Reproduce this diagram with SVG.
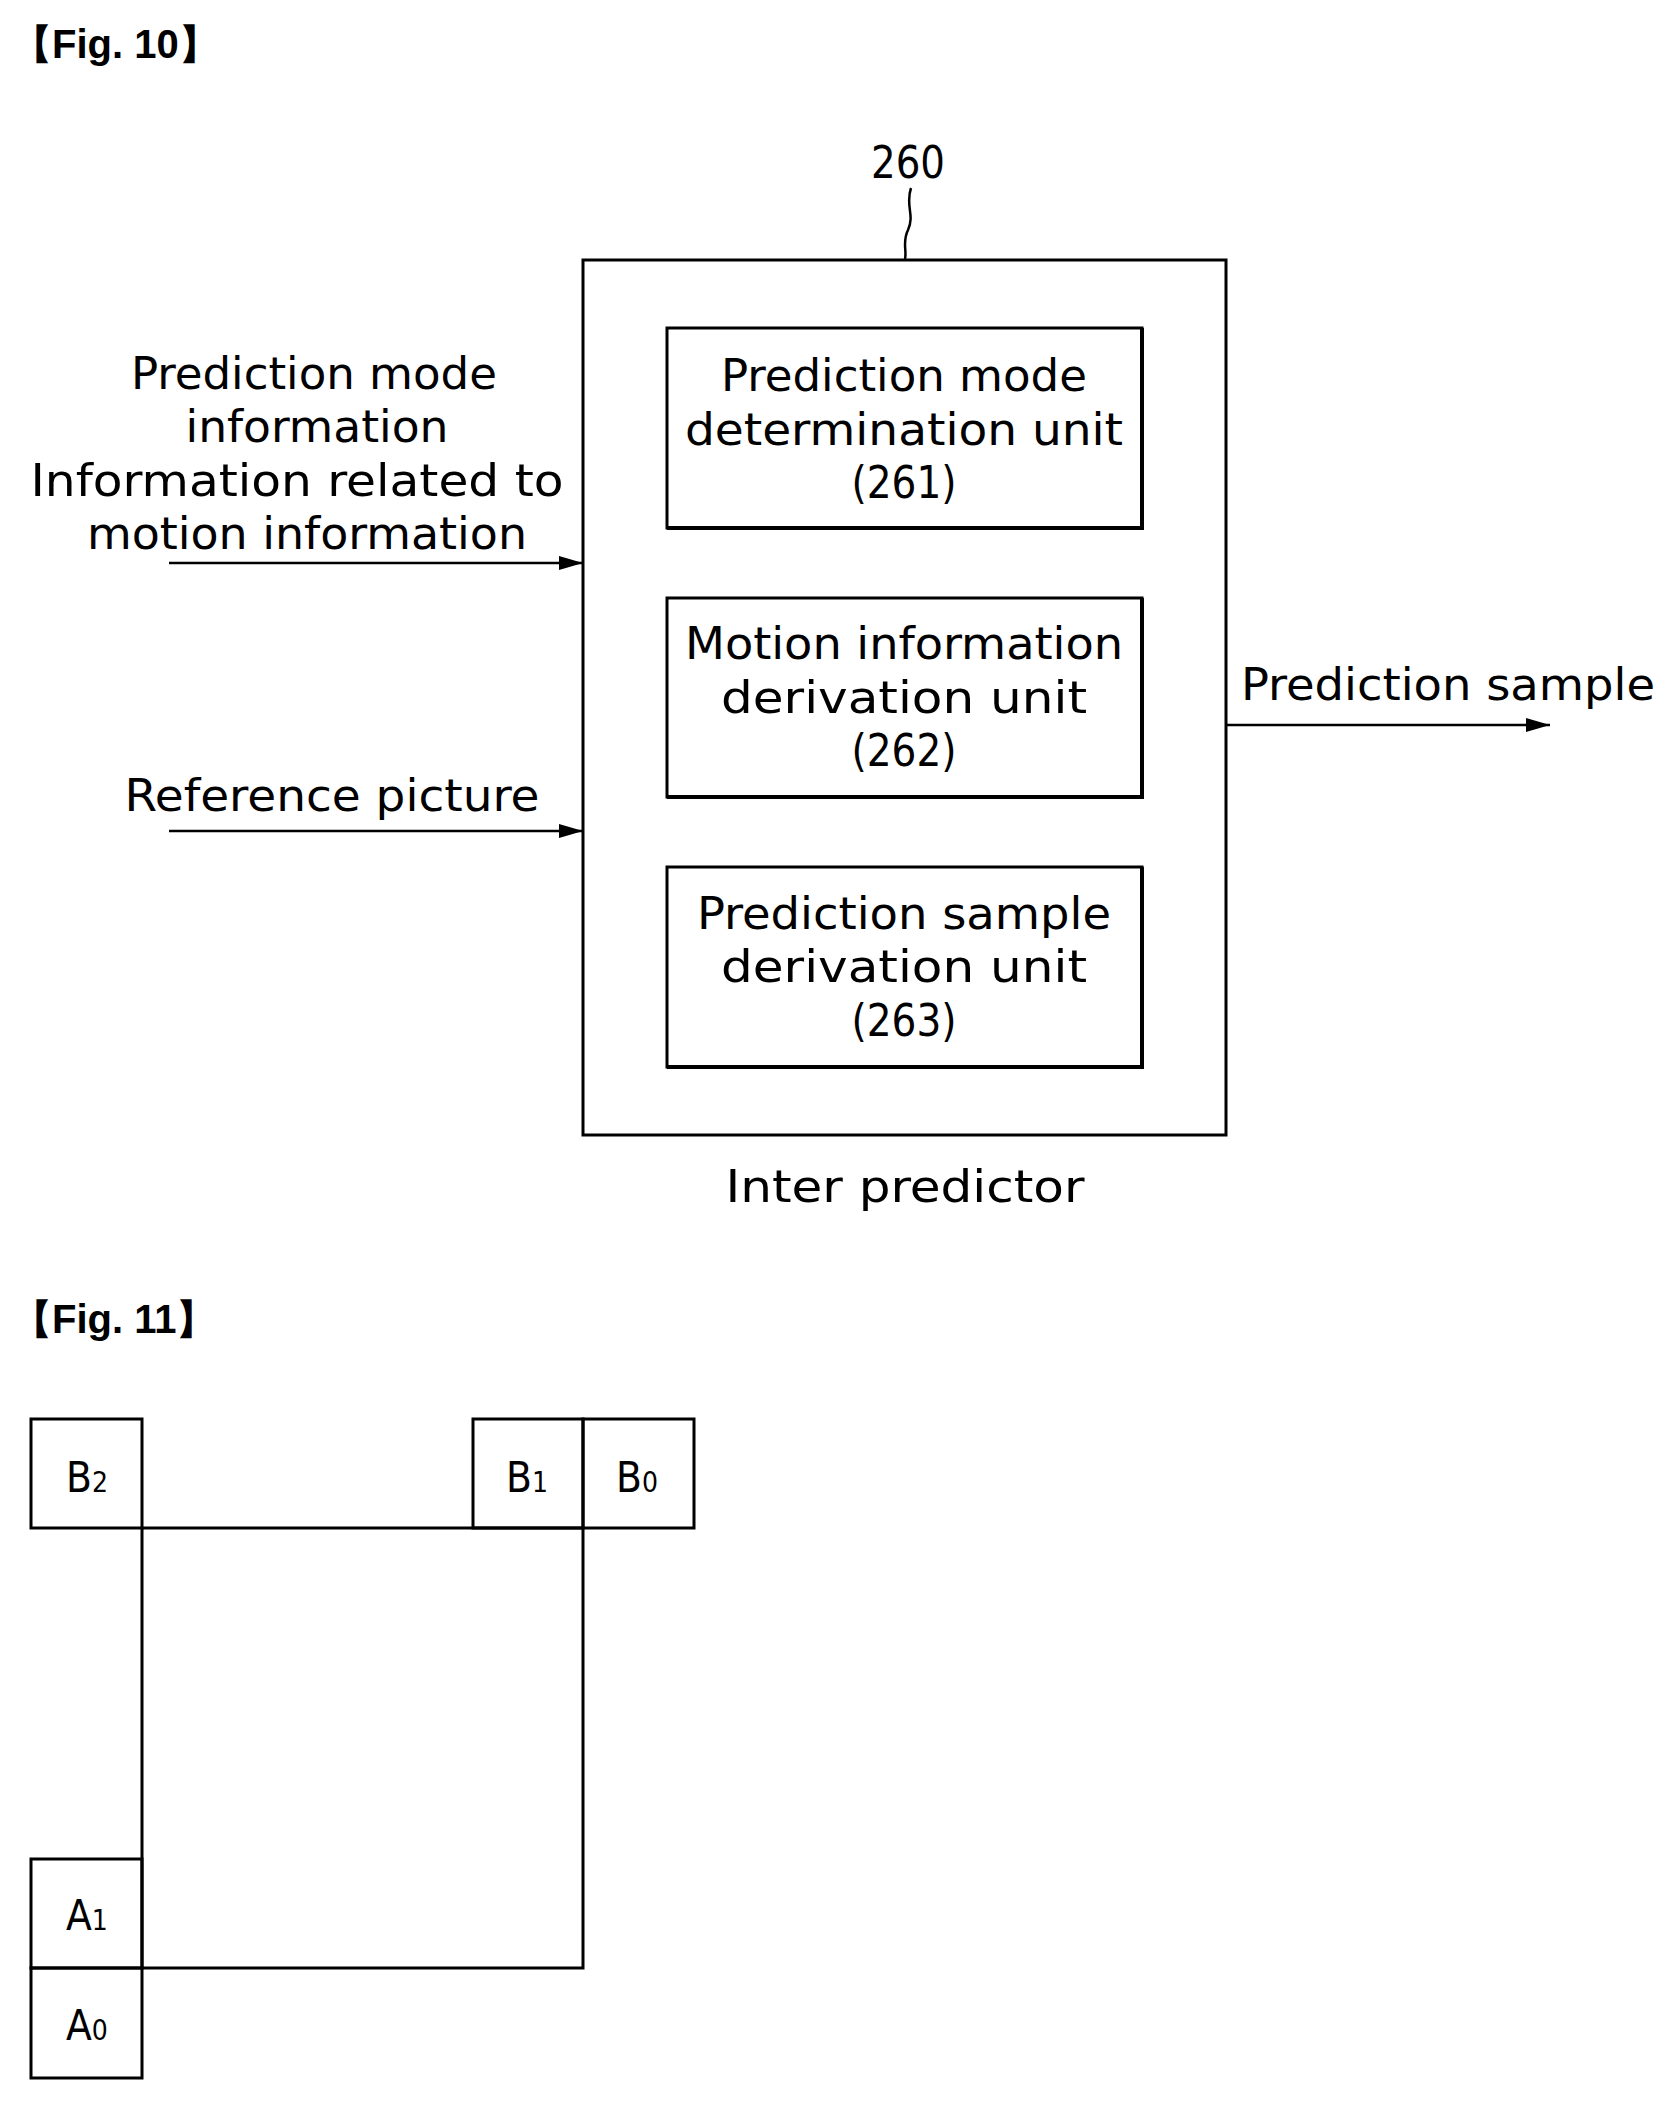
<svg xmlns="http://www.w3.org/2000/svg" width="1675" height="2103" viewBox="0 0 1675 2103">
<style>
text{font-family:"Liberation Sans Narrow","DejaVu Sans Condensed","Liberation Sans",sans-serif;fill:#000}
.t{font-size:44px;text-anchor:middle}
.f{font-family:"Liberation Sans",sans-serif;font-size:40px;font-weight:bold}
.b{fill:none;stroke:#000;stroke-width:3}
.c{stroke:#000;stroke-width:2.5;fill:none}
.g{font-size:42px}
.s{font-size:28px}
</style>
<defs><marker id="ah" markerWidth="24" markerHeight="14" refX="24" refY="7" orient="auto" markerUnits="userSpaceOnUse"><path d="M0,0 L24,7 L0,14 z" fill="#000"/></marker></defs>
<rect width="1675" height="2103" fill="#fff"/>
<text class="f" x="12" y="58">【Fig. 10】</text>
<g id="inter_predictor">
<rect class="b" x="583" y="260" width="643" height="875" stroke-width="4"/>
<text class="t" x="908" y="178" textLength="74" lengthAdjust="spacingAndGlyphs">260</text>
<path class="c" d="M911,188 C905,205 915,215 908,230 C902,242 907,250 905,259"/>
<text class="t" x="905" y="1202" textLength="359" lengthAdjust="spacingAndGlyphs">Inter predictor</text>
</g>
<g id="u261">
<rect class="b" x="667" y="328" width="475" height="200"/>
<path d="M667,528 H1142 V328" stroke="#000" stroke-width="4" fill="none"/>
<text class="t" x="904" y="391" textLength="366" lengthAdjust="spacingAndGlyphs">Prediction mode</text>
<text class="t" x="904" y="445" textLength="438" lengthAdjust="spacingAndGlyphs">determination unit</text>
<text class="t" x="904" y="498" textLength="105" lengthAdjust="spacingAndGlyphs">(261)</text>
</g>
<g id="u262">
<rect class="b" x="667" y="598" width="475" height="199"/>
<path d="M667,797 H1142 V598" stroke="#000" stroke-width="4" fill="none"/>
<text class="t" x="904" y="659" textLength="438" lengthAdjust="spacingAndGlyphs">Motion information</text>
<text class="t" x="904" y="713" textLength="366" lengthAdjust="spacingAndGlyphs">derivation unit</text>
<text class="t" x="904" y="766" textLength="105" lengthAdjust="spacingAndGlyphs">(262)</text>
</g>
<g id="u263">
<rect class="b" x="667" y="867" width="475" height="200"/>
<path d="M667,1067 H1142 V867" stroke="#000" stroke-width="4" fill="none"/>
<text class="t" x="904" y="929" textLength="414" lengthAdjust="spacingAndGlyphs">Prediction sample</text>
<text class="t" x="904" y="982" textLength="366" lengthAdjust="spacingAndGlyphs">derivation unit</text>
<text class="t" x="904" y="1036" textLength="105" lengthAdjust="spacingAndGlyphs">(263)</text>
</g>
<g id="labels">
<text class="t" x="314" y="389" textLength="366" lengthAdjust="spacingAndGlyphs">Prediction mode</text>
<text class="t" x="317" y="442" textLength="263" lengthAdjust="spacingAndGlyphs">information</text>
<text class="t" x="297" y="496" textLength="533" lengthAdjust="spacingAndGlyphs">Information related to</text>
<text class="t" x="307" y="549" textLength="440" lengthAdjust="spacingAndGlyphs">motion information</text>
<text class="t" x="332" y="811" textLength="415" lengthAdjust="spacingAndGlyphs">Reference picture</text>
<text class="t" x="1448" y="700" textLength="414" lengthAdjust="spacingAndGlyphs">Prediction sample</text>
</g>
<g id="connectors">
<line class="c" x1="169" y1="563" x2="583" y2="563" marker-end="url(#ah)"/>
<line class="c" x1="169" y1="831" x2="583" y2="831" marker-end="url(#ah)"/>
<line class="c" x1="1226" y1="725" x2="1550" y2="725" marker-end="url(#ah)"/>
</g>
<text class="f" x="12" y="1333">【Fig. 11】</text>
<g id="fig11">
<rect class="b" x="142" y="1528" width="441" height="440"/>
<rect class="b" x="31" y="1419" width="111" height="109"/>
<rect class="b" x="473" y="1419" width="110" height="109"/>
<rect class="b" x="583" y="1419" width="111" height="109"/>
<rect class="b" x="31" y="1859" width="111" height="109"/>
<rect class="b" x="31" y="1968" width="111" height="110"/>
<text class="g" x="66" y="1492">B<tspan class="s">2</tspan></text>
<text class="g" x="506" y="1492">B<tspan class="s">1</tspan></text>
<text class="g" x="616" y="1492">B<tspan class="s">0</tspan></text>
<text class="g" x="66" y="1930">A<tspan class="s">1</tspan></text>
<text class="g" x="66" y="2040">A<tspan class="s">0</tspan></text>
</g>
</svg>
